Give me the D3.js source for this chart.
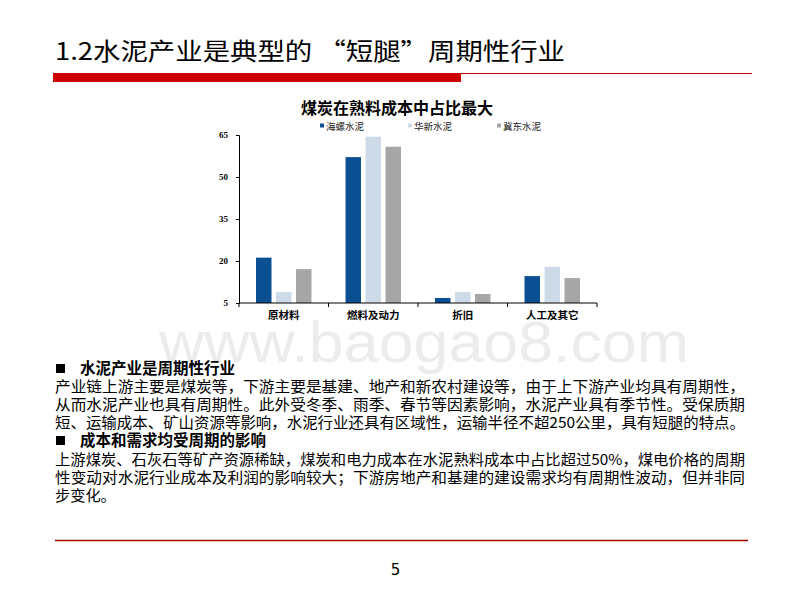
<!DOCTYPE html>
<html><head><meta charset="utf-8">
<script src="https://cdn.jsdelivr.net/npm/d3@7"></script>
<style>body{margin:0;background:#fff}svg{display:block}</style>
</head><body><svg id="c" width="800" height="600"></svg>
<script>
const categories = ["原材料", "燃料及动力", "折旧", "人工及其它"];
const seriesNames = ["海螺水泥", "华新水泥", "冀东水泥"];
const conch = [21.2, 57.1, 6.8, 14.6];
const huaxin = [8.9, 64.4, 8.9, 17.9];
const jidong = [17.1, 60.8, 8.2, 13.9];
const yTicks = [5, 20, 35, 50, 65];
const colors = ["#0a4f91", "#cddbe9", "#a6a6a6"];
const slideTitle = "1.2水泥产业是典型的 “短腿”周期性行业";
const chartTitle = "煤炭在熟料成本中占比最大";
const bodyLines = [
  {t:"水泥产业是周期性行业", h:true},
  {t:"产业链上游主要是煤炭等，下游主要是基建、地产和新农村建设等，由于上下游产业均具有周期性，", full:true},
  {t:"从而水泥产业也具有周期性。此外受冬季、雨季、春节等因素影响，水泥产业具有季节性。受保质期", full:true},
  {t:"短、运输成本、矿山资源等影响，水泥行业还具有区域性，运输半径不超250公里，具有短腿的特点。", full:true},
  {t:"成本和需求均受周期的影响", h:true},
  {t:"上游煤炭、石灰石等矿产资源稀缺，煤炭和电力成本在水泥熟料成本中占比超过50%，煤电价格的周期", full:true},
  {t:"性变动对水泥行业成本及利润的影响较大；下游房地产和基建的建设需求均有周期性波动，但并非同", full:true},
  {t:"步变化。"}
];
const pageNo = "5";

(function(){
const series = [conch, huaxin, jidong];
const svg = d3.select("#c");
const cjk = "'Noto Sans CJK SC','Noto Sans',sans-serif";

// watermark
svg.append("text").attr("x", 159).attr("y", 362)
  .attr("font-family", "Arial,'Liberation Sans',sans-serif").attr("font-size", 58)
  .attr("textLength", 530).attr("lengthAdjust", "spacingAndGlyphs")
  .attr("fill", "#ececec").text("www.baogao8.com");

// slide header
svg.append("text").attr("x", 55).attr("y", 60).attr("font-family", cjk).attr("font-size", 24)
  .attr("textLength", 510).attr("lengthAdjust", "spacingAndGlyphs").attr("fill", "#000").text(slideTitle);
svg.append("rect").attr("x", 53).attr("y", 73).attr("width", 408).attr("height", 9).attr("fill", "#cc0000");
svg.append("line").attr("x1", 461).attr("x2", 752).attr("y1", 73.5).attr("y2", 73.5).attr("stroke", "#c00000").attr("stroke-width", 1);

// chart
const pLeft = 239, pRight = 597, pTop = 135, pBottom = 303;
const x = d3.scaleBand().domain(categories).range([pLeft, pRight]).paddingInner(0).paddingOuter(0);
const xs = d3.scaleBand().domain(seriesNames).range([0, x.bandwidth()]).paddingInner(0.225).paddingOuter(0.85);
const y = d3.scaleLinear().domain([5, 65]).range([pBottom, pTop]);

svg.append("text").attr("x", 397).attr("y", 114).attr("text-anchor", "middle").attr("font-family", cjk)
  .attr("font-size", 16).attr("font-weight", "bold").text(chartTitle);

// legend
const legX = [320, 408, 497];
seriesNames.forEach((s, i) => {
  svg.append("rect").attr("x", legX[i]).attr("y", 123.5).attr("width", 4).attr("height", 4).attr("fill", colors[i]);
  svg.append("text").attr("x", legX[i] + 6).attr("y", 129.5).attr("font-family", cjk).attr("font-size", 9.5)
    .attr("textLength", 38).attr("lengthAdjust", "spacing").attr("fill", "#222").text(s);
});

// bars
const g = svg.append("g");
categories.forEach((c, ci) => {
  seriesNames.forEach((s, si) => {
    const v = series[si][ci];
    g.append("rect").attr("x", x(c) + xs(s)).attr("y", y(v)).attr("width", xs.bandwidth())
      .attr("height", y(5) - y(v)).attr("fill", colors[si]);
  });
});

// axes
const yAxis = d3.axisLeft(y).tickValues(yTicks).tickSize(3).tickPadding(8);
const ya = svg.append("g").attr("transform", `translate(${pLeft},0)`).call(yAxis);
ya.selectAll("text").attr("font-family", "'Liberation Serif','Times New Roman',serif").attr("font-size", 9)
  .attr("font-weight", "bold").attr("fill", "#000");
ya.selectAll("line,path").attr("stroke", "#000");

const xa = svg.append("g").attr("transform", `translate(0,${pBottom})`);
xa.append("line").attr("x1", pLeft).attr("x2", pRight).attr("stroke", "#000");
const bounds = categories.map(c => x(c)).concat([pRight]);
xa.selectAll("line.t").data(bounds).enter().append("line").attr("class", "t")
  .attr("x1", d => d).attr("x2", d => d).attr("y1", 0).attr("y2", 4).attr("stroke", "#000");
xa.selectAll("text").data(categories).enter().append("text")
  .attr("x", d => x(d) + x.bandwidth() / 2).attr("y", 16).attr("text-anchor", "middle")
  .attr("font-family", cjk).attr("font-size", 10.5).attr("font-weight", "bold").attr("fill", "#000").text(d => d);

// body text
const lineY = [374, 392, 410, 428, 446, 465, 483, 501];
bodyLines.forEach((l, i) => {
  if (l.h) {
    svg.append("rect").attr("x", 56).attr("y", lineY[i] - 10).attr("width", 9).attr("height", 9).attr("fill", "#000");
    svg.append("text").attr("x", 80).attr("y", lineY[i]).attr("font-family", cjk).attr("font-size", 15.5)
      .attr("font-weight", "bold").text(l.t);
  } else {
    const t = svg.append("text").attr("x", 55).attr("y", lineY[i]).attr("font-family", cjk).attr("font-size", 15.2).text(l.t);
    if (l.full) t.attr("textLength", 690).attr("lengthAdjust", "spacingAndGlyphs");
  }
});

svg.append("line").attr("x1", 55).attr("x2", 748).attr("y1", 540.5).attr("y2", 540.5).attr("stroke", "#a00000").attr("stroke-width", 1.3);
svg.append("text").attr("x", 395.5).attr("y", 575).attr("text-anchor", "middle")
  .attr("font-family", "'DejaVu Sans',sans-serif").attr("font-size", 15).text(pageNo);
})();
</script></body></html>
